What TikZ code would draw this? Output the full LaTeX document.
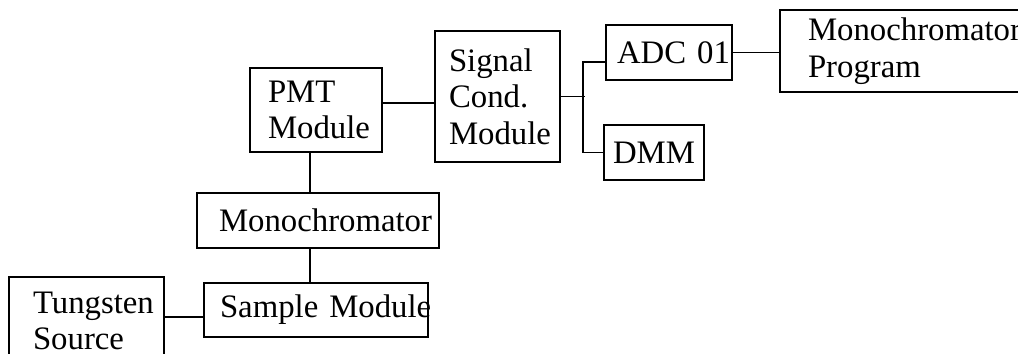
\documentclass[tikz,border=0pt]{standalone}
\usepackage{fontspec}
\setmainfont{Liberation Serif}
\usetikzlibrary{positioning}

\newcommand{\px}{0.36pt}
\hfuzz=\maxdimen
\hbadness=10000
\tikzset{
  blk/.style n args={3}{draw, rectangle, line width=0.7pt,
    minimum width=#1*\px, minimum height=#2*\px,
    inner xsep=#3*\px, inner ysep=0pt,
    text width=(#1-2*#3)*\px, align=left,
    font=\fontsize{11.8pt}{13.2pt}\selectfont},
  wire/.style={line width=0.7pt}
}

\begin{document}
\begin{tikzpicture}[x=\px, y=-\px]
\useasboundingbox (0,0) rectangle (1018,353);
\clip (0,0) rectangle (1018,353);

% optical chain
\node[blk={132}{84}{18}] (pmt) at (316,110) {PMT\\Module};
\node[blk={242}{55}{22}] (mono) at (318,220.5) {\mbox{Monochromator}};
\node[blk={224}{54}{16}] (sample) at (316,310) {\mbox{Sample Module}};
\node[blk={155}{88}{24}] (tung) at (86.5,321) {Tungsten\\Source};

% electronics
\node[blk={125}{131}{14}] (sig) at (497.5,96.5) {Signal\\Cond.\\Module};
\node[blk={126}{55}{11}] (adc) at (669,52.5) {\mbox{ADC 01}};
\node[blk={100}{55}{9}] (dmm) at (654,152.5) {DMM};
\node[blk={260}{82}{28}] (prog) at (910,51) {\mbox{Monochromator}\\Program};

\coordinate (spine) at (310,0);
\coordinate (bus) at (583,99);

\draw[wire] (spine |- pmt.south) -- (spine |- mono.north);
\draw[wire] (spine |- mono.south) -- (spine |- sample.north);
\draw[wire] ([yshift=-7*\px]sample.west) -- ([yshift=-7*\px]sample.west -| tung.east);
\draw[wire] ([yshift=7*\px]pmt.east) -- ([yshift=7*\px]pmt.east -| sig.west);
\draw[wire] (sig.east) -- ([xshift=2*\px]sig.east -| bus);
\draw[wire] ([yshift=-9.5*\px]adc.west) -| (bus |- dmm.west) -- (dmm.west);
\draw[wire] (adc.east) -- (adc.east -| prog.west);

\end{tikzpicture}
\end{document}
